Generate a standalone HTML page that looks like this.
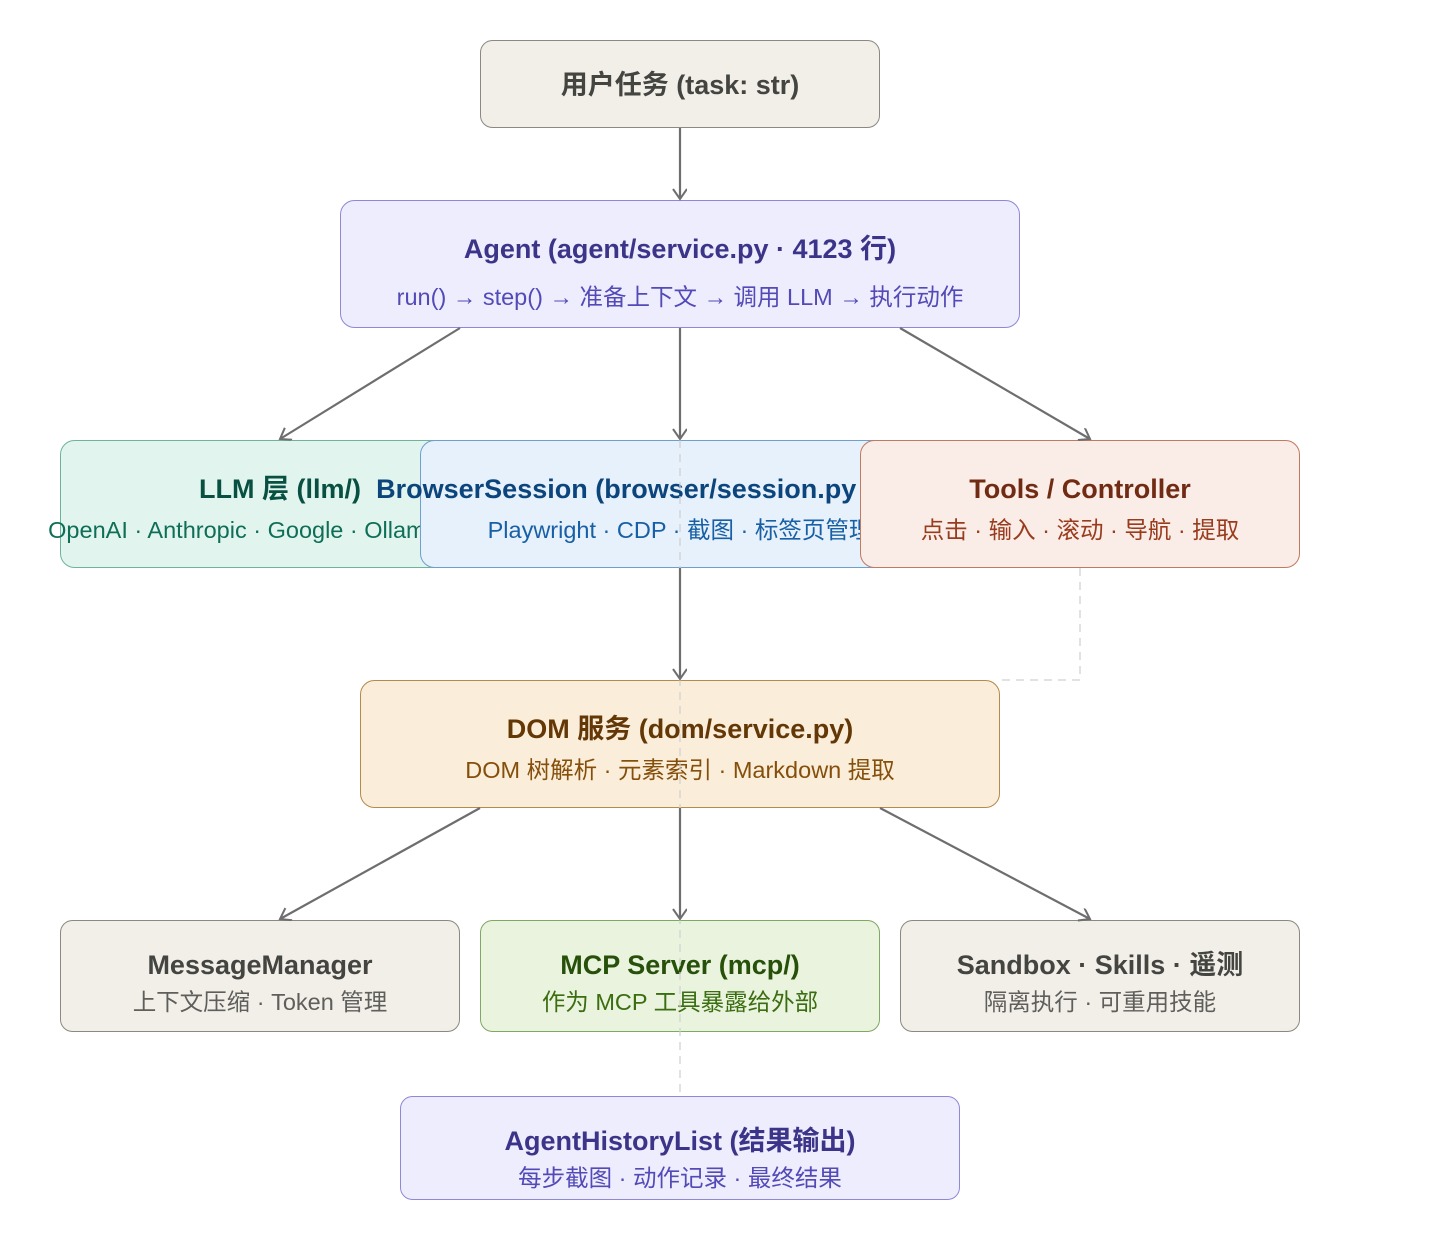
<!DOCTYPE html>
<html><head><meta charset="utf-8"><style>
html,body{margin:0;padding:0;background:#fff;}
svg{display:block}
text{font-family:"Liberation Sans","Noto Sans CJK SC",sans-serif;text-anchor:middle}
.t{font-size:27px;font-weight:bold}
.s{font-size:23.5px}
</style></head><body>
<svg width="1440" height="1240" viewBox="0 0 1440 1240" xmlns="http://www.w3.org/2000/svg">
<defs><marker id="a" markerWidth="16" markerHeight="16" refX="11" refY="7" orient="auto" markerUnits="userSpaceOnUse"><path d="M1,0 L11,7 L1,14" fill="none" stroke="#6e6e6e" stroke-width="2"/></marker></defs>
<rect x="480.5" y="40.5" width="399" height="87" rx="12" fill="#f1efe8" stroke="#8a8880"/>
<text class="t" x="680" y="94" fill="#444441">用户任务 (task: str)</text>
<rect x="340.5" y="200.5" width="679" height="127" rx="14" fill="#eeedfe" stroke="#8f87d8"/>
<text class="t" x="680" y="258" fill="#3c3489">Agent (agent/service.py · 4123 行)</text>
<text class="s" x="680" y="305" fill="#534ab7">run() → step() → 准备上下文 → 调用 LLM → 执行动作</text>
<rect x="60.5" y="440.5" width="439" height="127" rx="14" fill="#e1f5ee" stroke="#6fb49a"/>
<text class="t" x="280" y="498" fill="#085041">LLM 层 (llm/)</text>
<text class="s" x="280" y="538" fill="#0f6e56">OpenAI · Anthropic · Google · Ollama · Groq</text>
<rect x="420.5" y="440.5" width="519" height="127" rx="14" fill="#e6f1fb" stroke="#6f9fd0"/>
<text class="t" x="680" y="498" fill="#0c447c">BrowserSession (browser/session.py · 3000 行)</text>
<text class="s" x="680" y="538" fill="#185fa5">Playwright · CDP · 截图 · 标签页管理</text>
<rect x="860.5" y="440.5" width="439" height="127" rx="14" fill="#faece7" stroke="#c07a62"/>
<text class="t" x="1080" y="498" fill="#712b13">Tools / Controller</text>
<text class="s" x="1080" y="538" fill="#993c1d">点击 · 输入 · 滚动 · 导航 · 提取</text>
<rect x="360.5" y="680.5" width="639" height="127" rx="14" fill="#faeeda" stroke="#b58a4a"/>
<text class="t" x="680" y="738" fill="#633806">DOM 服务 (dom/service.py)</text>
<text class="s" x="680" y="778" fill="#854f0b">DOM 树解析 · 元素索引 · Markdown 提取</text>
<rect x="60.5" y="920.5" width="399" height="111" rx="12" fill="#f1efe8" stroke="#8a8880"/>
<text class="t" x="260" y="974" fill="#444441">MessageManager</text>
<text class="s" x="260" y="1010" fill="#5f5e5a">上下文压缩 · Token 管理</text>
<rect x="480.5" y="920.5" width="399" height="111" rx="12" fill="#eaf3de" stroke="#7fa860"/>
<text class="t" x="680" y="974" fill="#27500a">MCP Server (mcp/)</text>
<text class="s" x="680" y="1010" fill="#3b6d11">作为 MCP 工具暴露给外部</text>
<rect x="900.5" y="920.5" width="399" height="111" rx="12" fill="#f1efe8" stroke="#8a8880"/>
<text class="t" x="1100" y="974" fill="#444441">Sandbox · Skills · 遥测</text>
<text class="s" x="1100" y="1010" fill="#5f5e5a">隔离执行 · 可重用技能</text>
<rect x="400.5" y="1096.5" width="559" height="103" rx="12" fill="#eeedfe" stroke="#8f87d8"/>
<text class="t" x="680" y="1150" fill="#3c3489">AgentHistoryList (结果输出)</text>
<text class="s" x="680" y="1186" fill="#534ab7">每步截图 · 动作记录 · 最终结果</text>
<g stroke="#cfcfcf" stroke-width="1.5" fill="none" stroke-dasharray="8,6" opacity="0.8">
<line x1="680" y1="440" x2="680" y2="1094"/>
<polyline points="1080,568 1080,680 1000,680"/>
</g>
<g stroke="#6e6e6e" stroke-width="2.2" fill="none" marker-end="url(#a)">
<line x1="680" y1="128" x2="680" y2="199"/>
<line x1="460" y1="328" x2="280" y2="439"/>
<line x1="680" y1="328" x2="680" y2="439"/>
<line x1="900" y1="328" x2="1090" y2="439"/>
<line x1="680" y1="568" x2="680" y2="679"/>
<line x1="480" y1="808" x2="280" y2="919"/>
<line x1="680" y1="808" x2="680" y2="919"/>
<line x1="880" y1="808" x2="1090" y2="919"/>
</g>
</svg>
</body></html>
